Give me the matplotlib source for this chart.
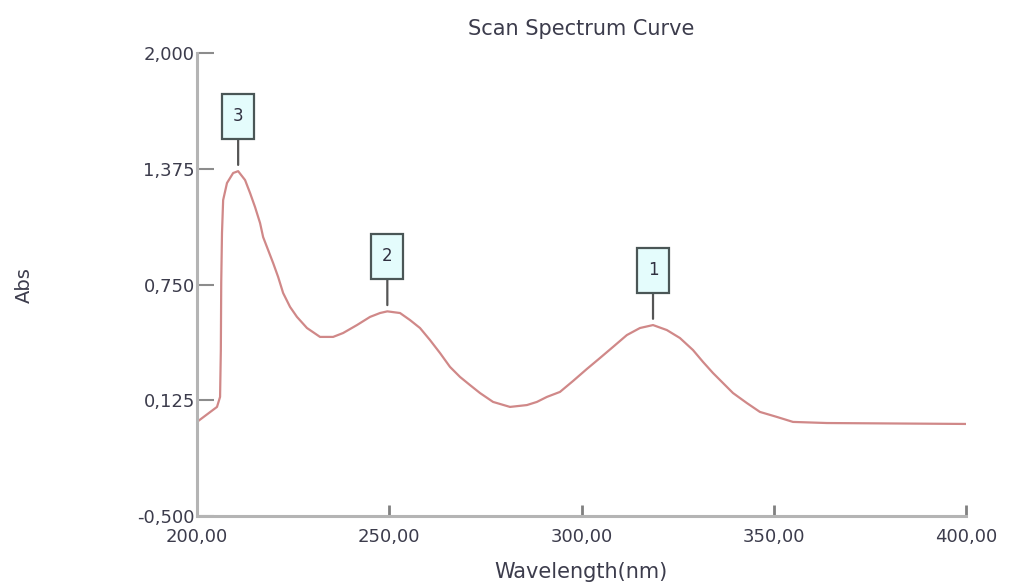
import matplotlib
matplotlib.use("Agg")
import matplotlib.pyplot as plt
from matplotlib.path import Path
from matplotlib.ticker import FixedLocator, FuncFormatter

# scan data: wavelength (nm) and absorbance
wavelength = [200.0, 205.2, 206.0, 206.2, 206.3, 206.5, 206.8, 207.8, 209.4, 210.7,
              212.5, 213.8, 215.1, 216.4, 217.2, 218.5, 219.8, 221.1, 222.4, 224.2,
              226.0, 228.6, 232.0, 235.4, 238.0, 241.6, 245.0, 247.6, 249.5, 252.8,
              255.4, 258.0, 260.6, 263.2, 265.8, 268.4, 271.0, 273.6, 277.0, 281.4,
              285.8, 288.4, 291.0, 294.4, 297.8, 301.4, 304.8, 308.2, 311.8, 315.2,
              318.6, 322.2, 325.6, 329.0, 331.6, 334.2, 336.8, 339.4, 343.0, 346.4,
              350.8, 355.0, 363.8, 400.0]
absorbance = [0.008, 0.089, 0.143, 0.396, 0.758, 1.028, 1.206, 1.298, 1.352, 1.362,
              1.314, 1.244, 1.168, 1.082, 1.006, 0.936, 0.866, 0.791, 0.704, 0.629,
              0.575, 0.515, 0.467, 0.467, 0.488, 0.531, 0.575, 0.596, 0.605, 0.596,
              0.558, 0.515, 0.450, 0.380, 0.305, 0.251, 0.207, 0.164, 0.116, 0.089,
              0.099, 0.116, 0.143, 0.170, 0.229, 0.294, 0.353, 0.413, 0.477, 0.515,
              0.531, 0.504, 0.461, 0.396, 0.332, 0.272, 0.218, 0.164, 0.110, 0.062,
              0.035, 0.008, 0.002, -0.003]

# picked peaks
peak_ids = ["1", "2", "3"]
peak_nm = [318.6, 249.5, 210.7]
peak_abs = [0.531, 0.605, 1.362]

x_ticks = [200, 250, 300, 350, 400]
y_ticks = [-0.5, 0.125, 0.75, 1.375, 2.0]

text_color = "#3c3c4c"
axis_gray = "#b4b4b4"


def tall_box(x0, y0, width, height, mutation_size):
    # fixed-shape label box, taller than it is wide
    cx = x0 + width / 2
    cy = y0 + height / 2
    hw = 0.96 * mutation_size
    hh = 1.35 * mutation_size
    verts = [(cx - hw, cy - hh), (cx + hw, cy - hh), (cx + hw, cy + hh),
             (cx - hw, cy + hh), (cx - hw, cy - hh)]
    codes = [Path.MOVETO, Path.LINETO, Path.LINETO, Path.LINETO, Path.CLOSEPOLY]
    return Path(verts, codes)


fig = plt.figure(figsize=(10.25, 5.87), dpi=100)
ax = fig.add_axes([197 / 1025, 1 - 516 / 587, (966 - 197) / 1025, (516 - 53) / 587])

ax.plot(wavelength, absorbance, color="#d08888", lw=1.6,
        solid_joinstyle="round", solid_capstyle="round")

for pid, px, py in zip(peak_ids, peak_nm, peak_abs):
    ax.annotate(pid, xy=(px, py), xytext=(0, 55), textcoords="offset pixels",
                ha="center", va="center", fontsize=12, color="#303040",
                bbox=dict(boxstyle=tall_box, fc="#e4fcfc", ec="#4a5656", lw=1.6),
                arrowprops=dict(arrowstyle="-", color="#555555", lw=1.6,
                                shrinkA=0, shrinkB=4.5))

ax.set_xlim(200, 400)
ax.set_ylim(-0.5, 2.0)

for side in ("top", "right"):
    ax.spines[side].set_visible(False)
for side in ("left", "bottom"):
    ax.spines[side].set_color(axis_gray)
    ax.spines[side].set_linewidth(2.2)

ax.xaxis.set_major_locator(FixedLocator(x_ticks))
ax.yaxis.set_major_locator(FixedLocator(y_ticks))
ax.xaxis.set_major_formatter(FuncFormatter(lambda v, p: f"{v:.2f}".replace(".", ",")))
ax.yaxis.set_major_formatter(FuncFormatter(lambda v, p: f"{v:.3f}".replace(".", ",")))

ax.tick_params(axis="y", direction="in", length=12, width=1.5, color="#8c8c8c",
               pad=1.5, labelsize=13, labelcolor=text_color)
ax.tick_params(axis="x", direction="in", length=8, width=2, color="#808080",
               pad=9, labelsize=13, labelcolor=text_color)

ax.set_title("Scan Spectrum Curve", fontsize=15, color=text_color, pad=13)
fig.text(581 / 1025, 1 - 572 / 587, "Wavelength(nm)", ha="center", va="center",
         fontsize=15, color=text_color)
fig.text(24 / 1025, 1 - 285 / 587, "Abs", ha="center", va="center", rotation=90,
         fontsize=14, color=text_color)

fig.savefig("out.png", dpi=100)
